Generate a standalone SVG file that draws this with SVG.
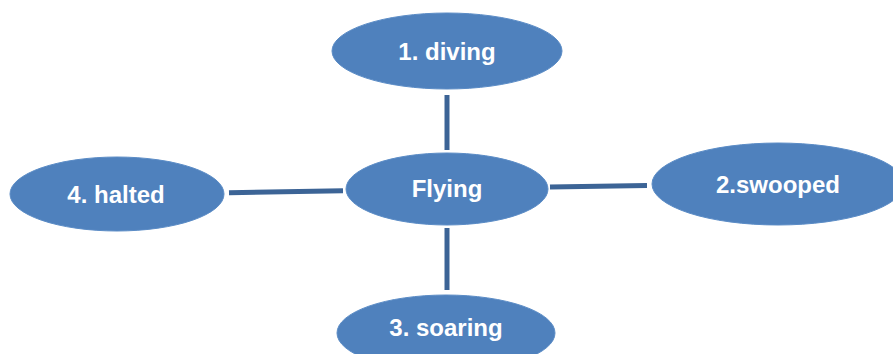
<svg xmlns="http://www.w3.org/2000/svg" width="893" height="354" viewBox="0 0 893 354">
<style>
.n ellipse{fill:#4F81BD;stroke:#5B8CC6;stroke-width:1}
.n text{fill:#FFFFFF;font-family:"Liberation Sans",Arial,sans-serif;font-weight:bold;font-size:24px;text-anchor:middle}
.c line{stroke:#3C6496;stroke-width:5}
</style>
<rect width="893" height="354" fill="#FFFFFF"/>
<g id="connectors" class="c">
<line x1="447" y1="95" x2="447" y2="150"/>
<line x1="447" y1="228" x2="447" y2="290"/>
<line x1="229" y1="192.7" x2="343" y2="190.7"/>
<line x1="550" y1="187" x2="647" y2="185.6"/>
</g>
<g id="node-diving" class="n">
<ellipse cx="447" cy="51" rx="115" ry="38"/>
<text x="447" y="60">1. diving</text>
</g>
<g id="node-flying" class="n">
<ellipse cx="447" cy="189" rx="101" ry="36"/>
<text x="447" y="197">Flying</text>
</g>
<g id="node-halted" class="n">
<ellipse cx="117" cy="194" rx="107" ry="37"/>
<text x="116" y="203">4. halted</text>
</g>
<g id="node-swooped" class="n">
<ellipse cx="778" cy="184" rx="126" ry="41"/>
<text x="778" y="193">2.swooped</text>
</g>
<g id="node-soaring" class="n">
<ellipse cx="446" cy="333" rx="109" ry="38"/>
<text x="446" y="336">3. soaring</text>
</g>
</svg>
